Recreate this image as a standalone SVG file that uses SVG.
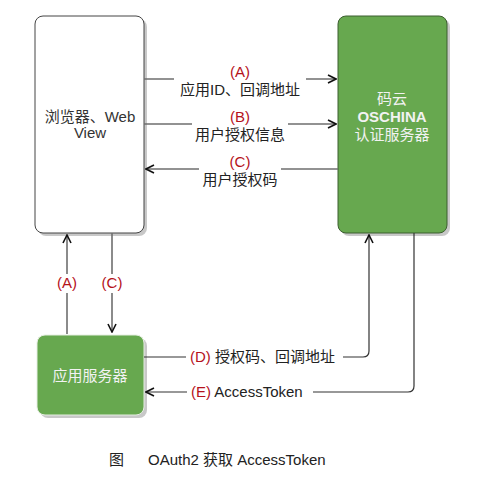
<svg xmlns="http://www.w3.org/2000/svg" width="490" height="480" viewBox="0 0 490 480">
<defs>
<style>
.t{font-family:"Liberation Sans","Noto Sans CJK SC",sans-serif;font-size:15px;text-anchor:middle}
.s{font-family:"Liberation Sans","Noto Sans CJK SC",sans-serif;font-size:15px}
.lbl{fill:#222}
.red{fill:#b5121b}
.wt{fill:#f2f2f2}
.shadow{fill:#c8c8c8}
.ln{fill:none;stroke:#6e6e6e;stroke-width:1.6}
.ld{fill:none;stroke:#333;stroke-width:1.2}
</style>
<marker id="ah" viewBox="0 0 10 10" refX="9" refY="5" markerWidth="10" markerHeight="10" markerUnits="userSpaceOnUse" orient="auto">
<path d="M1,1 L9,5 L1,9" fill="none" stroke="#111" stroke-width="1.6"/>
</marker>
</defs>
<rect width="490" height="480" fill="#fff"/>

<g id="browser">
<rect class="shadow" x="38" y="19" width="109" height="217" rx="8"/>
<rect x="35" y="16" width="109" height="217" rx="8" fill="#fff" stroke="#444" stroke-width="1"/>
<text class="t" x="90" y="122" fill="#333">浏览器、Web</text>
<text class="t" x="90" y="138" fill="#333">View</text>
</g>

<g id="auth-server">
<rect class="shadow" x="341" y="19" width="109" height="217" rx="8"/>
<rect x="338" y="16" width="109" height="217" rx="8" fill="#67a84f" stroke="#3d5e31" stroke-width="1"/>
<text class="t wt" x="392" y="104">码云</text>
<text class="t wt" x="392" y="122" font-weight="bold">OSCHINA</text>
<text class="t wt" x="392" y="140">认证服务器</text>
</g>

<g id="app-server">
<rect class="shadow" x="40" y="338" width="107" height="80" rx="8"/>
<rect x="37" y="335" width="107" height="80" rx="8" fill="#67a84f" stroke="#e6eee2" stroke-width="1"/>
<text class="t wt" x="90" y="381">应用服务器</text>
</g>

<g id="connectors">
<path class="ln" d="M144,79 H336" marker-end="url(#ah)"/>
<path class="ln" d="M144,124 H336" marker-end="url(#ah)"/>
<path class="ln" d="M338,169 H146" marker-end="url(#ah)"/>
<path class="ln" d="M67,334 V235" marker-end="url(#ah)"/>
<path class="ln" d="M112,233 V332" marker-end="url(#ah)"/>
<path class="ld" d="M144,357 H363 Q369,357 369,351 V235" marker-end="url(#ah)"/>
<path class="ld" d="M414,233 V386 Q414,392 408,392 H146" marker-end="url(#ah)"/>

<rect x="174" y="63" width="132" height="36" fill="#fff"/>
<text class="t red" x="240" y="77">(A)</text>
<text class="t lbl" x="240" y="95">应用ID、回调地址</text>

<rect x="192" y="108" width="96" height="36" fill="#fff"/>
<text class="t red" x="240" y="122">(B)</text>
<text class="t lbl" x="240" y="140">用户授权信息</text>

<rect x="199" y="153" width="82" height="36" fill="#fff"/>
<text class="t red" x="240" y="167">(C)</text>
<text class="t lbl" x="240" y="185">用户授权码</text>

<rect x="53" y="274" width="28" height="19" fill="#fff"/>
<text class="t red" x="67" y="288">(A)</text>
<rect x="98" y="274" width="28" height="19" fill="#fff"/>
<text class="t red" x="112" y="288">(C)</text>

<rect x="186" y="347" width="157" height="20" fill="#fff"/>
<text class="s" x="190" y="362"><tspan fill="#b5121b">(D)</tspan><tspan fill="#222"> 授权码、回调地址</tspan></text>

<rect x="187" y="382" width="126" height="20" fill="#fff"/>
<text class="s" x="191" y="397"><tspan fill="#b5121b">(E)</tspan><tspan fill="#222"> AccessToken</tspan></text>
</g>

<text class="s" x="109" y="465" fill="#222">图</text>
<text class="s" x="148" y="465" fill="#222">OAuth2 获取 AccessToken</text>
</svg>
